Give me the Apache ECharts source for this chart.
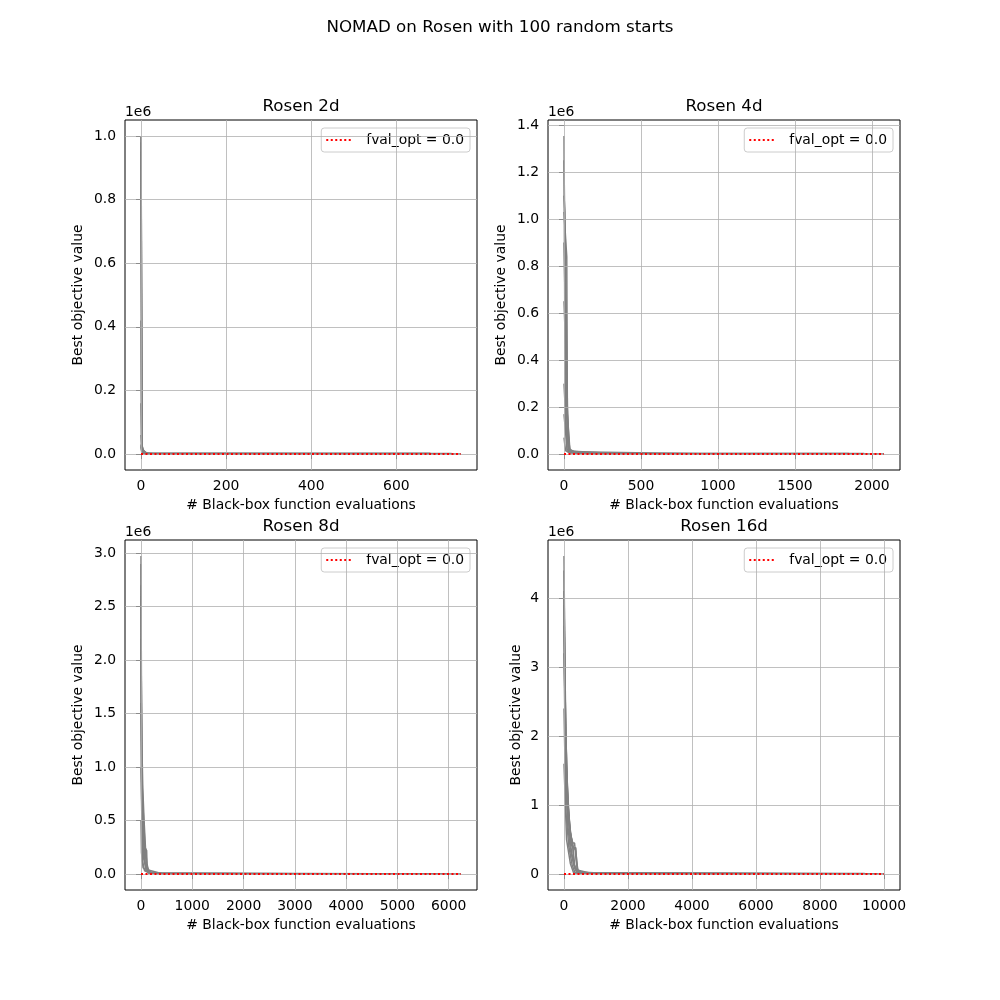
<!DOCTYPE html>
<html>
<head>
<meta charset="utf-8">
<script src="https://cdn.jsdelivr.net/npm/echarts@6/dist/echarts.min.js"></script>
<style>html,body{margin:0;padding:0;background:#fff}#c{width:1000px;height:1000px}</style>
</head>
<body>
<div id="c"></div>
<script>
// ---------------- data ----------------
const suptitle = 'NOMAD on Rosen with 100 random starts';
const panelTitles = ['Rosen 2d', 'Rosen 4d', 'Rosen 8d', 'Rosen 16d'];
const xAxisName = '# Black-box function evaluations';
const yAxisName = 'Best objective value';
const legendName = 'fval_opt = 0.0';
const fvalOpt = 0.0;

const xTicks2d = [0, 200, 400, 600];
const xTicks4d = [0, 500, 1000, 1500, 2000];
const xTicks8d = [0, 1000, 2000, 3000, 4000, 5000, 6000];
const xTicks16d = [0, 2000, 4000, 6000, 8000, 10000];

const yTicks2d = [0, 2e5, 4e5, 6e5, 8e5, 1e6];
const yLabels2d = ['0.0', '0.2', '0.4', '0.6', '0.8', '1.0'];
const yTicks4d = [0, 2e5, 4e5, 6e5, 8e5, 1e6, 1.2e6, 1.4e6];
const yLabels4d = ['0.0', '0.2', '0.4', '0.6', '0.8', '1.0', '1.2', '1.4'];
const yTicks8d = [0, 5e5, 1e6, 1.5e6, 2e6, 2.5e6, 3e6];
const yLabels8d = ['0.0', '0.5', '1.0', '1.5', '2.0', '2.5', '3.0'];
const yTicks16d = [0, 1e6, 2e6, 3e6, 4e6];
const yLabels16d = ['0', '1', '2', '3', '4'];

// representative best-so-far traces: [evaluation, best objective value]
const runs2d = [
  [[0, 1.0e6], [2, 2.6e4], [6, 2.2e4], [8, 4000], [30, 900], [752, 0]],
  [[0, 1.0e6], [3, 2.5e4], [5, 1.2e4], [15, 2500], [730, 1500]],
  [[0, 9.8e5], [1, 3.0e5], [2, 1.0e4], [10, 2000], [20, 1500], [700, 1000]],
  [[0, 9.5e5], [3, 1.5e4], [12, 3000], [640, 500]],
  [[0, 4.2e5], [1, 1.5e4], [4, 3000], [20, 400], [610, 0]],
  [[0, 1.6e5], [2, 8000], [8, 1200], [40, 100], [520, 0]],
  [[0, 6.0e4], [2, 2.0e4], [5, 2000], [30, 200], [450, 0]],
  [[0, 2.4e4], [3, 6000], [10, 500], [380, 0]],
  [[0, 3.0e4], [1, 1.0e4], [6, 3000], [680, 2500]]
];
const runs4d = [
  [[0, 1.354e6], [2, 1.04e6], [5, 6.0e5], [9, 1.7e5], [20, 1.2e4], [80, 3000], [2078, 0]],
  [[0, 1.25e6], [4, 1.03e6], [12, 1.03e6], [14, 2.0e5], [30, 1.5e4], [150, 3000], [1850, 2000]],
  [[0, 1.1e6], [6, 1.03e6], [10, 8.4e5], [20, 8.4e5], [24, 1.0e5], [40, 8000], [200, 1500], [1600, 1000]],
  [[0, 1.03e6], [18, 8.4e5], [22, 1.7e5], [34, 1.7e5], [38, 2.0e4], [60, 1.2e4], [300, 4000], [1950, 3000]],
  [[0, 9.0e5], [14, 4.0e5], [22, 1.7e5], [32, 1.7e5], [36, 1.5e4], [120, 1000], [1400, 0]],
  [[0, 6.5e5], [8, 5.0e5], [16, 3.0e5], [26, 1.2e5], [30, 2.0e4], [60, 1.2e4], [250, 500], [1200, 0]],
  [[0, 3.0e5], [16, 9.0e4], [28, 3.0e4], [50, 1.0e4], [1000, 0]],
  [[0, 1.7e5], [20, 2.0e4], [45, 8000], [180, 1500], [850, 0]],
  [[0, 7.0e4], [10, 1.5e4], [35, 5000], [700, 0]]
];
const runs8d = [
  [[0, 2.975e6], [3, 2.4e6], [8, 1.8e6], [18, 1.2e6], [35, 8.0e5], [60, 5.0e5], [90, 2.2e5], [115, 1.0e5], [150, 2.5e4], [210, 1.5e4], [400, 5000], [6240, 0]],
  [[0, 2.9e6], [6, 1.5e6], [20, 9.0e5], [40, 6.2e5], [72, 6.2e5], [78, 2.5e5], [110, 2.2e5], [120, 4.0e4], [400, 6000], [5700, 3000]],
  [[0, 2.6e6], [12, 9.0e5], [30, 5.0e5], [55, 3.0e5], [100, 1.2e5], [130, 3.0e4], [190, 1.2e4], [400, 4000], [5200, 2000]],
  [[0, 2.2e6], [15, 6.0e5], [40, 2.5e5], [80, 1.0e5], [170, 2.0e4], [350, 3000], [4600, 0]],
  [[0, 1.6e6], [20, 3.0e5], [50, 1.5e5], [100, 4.0e4], [200, 1.0e4], [4000, 0]],
  [[0, 1.0e6], [30, 1.2e5], [70, 3.0e4], [200, 5000], [3500, 0]],
  [[0, 2.7e6], [5, 1.9e6], [15, 1.1e6], [30, 6.0e5], [50, 3.0e5], [75, 1.2e5], [100, 5.0e4], [200, 1.0e4], [6000, 1000]],
  [[0, 5.0e5], [10, 2.0e5], [40, 6.0e4], [150, 8000], [3000, 0]]
];
const runs16d = [
  [[0, 4.61e6], [10, 4.0e6], [30, 3.0e6], [60, 2.0e6], [110, 1.2e6], [180, 7.0e5], [250, 4.5e5], [330, 4.5e5], [380, 2.0e5], [440, 3.0e4], [1100, 1.5e4], [10000, 0]],
  [[0, 4.4e6], [15, 3.5e6], [40, 2.5e6], [80, 1.6e6], [140, 9.0e5], [210, 5.5e5], [260, 4.8e5], [300, 4.8e5], [340, 1.0e5], [420, 2.0e4], [1000, 1.0e4], [9800, 5000]],
  [[0, 4.1e6], [20, 3.2e6], [50, 2.2e6], [90, 1.4e6], [150, 8.0e5], [220, 5.0e5], [280, 4.0e5], [360, 3.5e5], [430, 6.0e4], [600, 1.5e4], [9400, 8000]],
  [[0, 3.9e6], [25, 2.6e6], [70, 1.6e6], [125, 1.0e6], [200, 6.0e5], [270, 4.5e5], [300, 1.5e5], [420, 4.0e4], [700, 1.0e4], [8600, 3000]],
  [[0, 3.6e6], [40, 2.0e6], [100, 1.1e6], [170, 6.0e5], [240, 3.0e5], [350, 8.0e4], [500, 1.2e4], [7800, 0]],
  [[0, 3.2e6], [50, 1.4e6], [120, 7.0e5], [200, 3.5e5], [320, 1.0e5], [400, 2.0e4], [6800, 5000]],
  [[0, 2.4e6], [60, 9.0e5], [150, 4.0e5], [260, 1.2e5], [350, 1.5e4], [5800, 0]],
  [[0, 1.6e6], [80, 5.0e5], [200, 1.5e5], [300, 2.0e4], [4800, 0]],
  [[0, 4.0e6], [30, 2.4e6], [70, 1.5e6], [110, 1.1e6], [160, 7.0e5], [230, 4.2e5], [290, 3.8e5], [370, 3.8e5], [410, 6.0e4], [800, 1.5e4], [9000, 4000]]
];

const panelRuns = [runs2d, runs4d, runs8d, runs16d];
const panelXTicks = [xTicks2d, xTicks4d, xTicks8d, xTicks16d];
const panelYTicks = [yTicks2d, yTicks4d, yTicks8d, yTicks16d];
const panelYLabels = [yLabels2d, yLabels4d, yLabels8d, yLabels16d];

// ---------------- layout ----------------
const FONT = 'DejaVu Sans';
const FS = 13.9;
const AX_W = 352, AX_H = 350;
const lefts = [125, 548, 125, 548];
const tops = [120, 120, 540, 540];
const yNameGaps = [40, 40, 40, 25];
const DOT = [2, 2.5];

const grids = [], xAxes = [], yAxes = [], series = [], legends = [], graphics = [];

graphics.push({type: 'text', left: 'center', top: 19, style: {text: suptitle, font: '16.7px "' + FONT + '"', fill: '#000'}});

panelRuns.forEach((runs, i) => {
  let xmin = Infinity, xmax = -Infinity, ymin = Infinity, ymax = -Infinity;
  runs.forEach(r => r.forEach(p => {
    xmin = Math.min(xmin, p[0]); xmax = Math.max(xmax, p[0]);
    ymin = Math.min(ymin, p[1]); ymax = Math.max(ymax, p[1]);
  }));
  const xp = 0.05 * (xmax - xmin), yp = 0.05 * (ymax - ymin);

  grids.push({left: lefts[i], top: tops[i], width: AX_W, height: AX_H, show: true,
    borderColor: '#000', borderWidth: 1, backgroundColor: 'transparent', containLabel: false});

  const xt = panelXTicks[i], yt = panelYTicks[i], yl = panelYLabels[i];
  xAxes.push({type: 'value', gridIndex: i, min: xmin - xp, max: xmax + xp,
    name: xAxisName, nameLocation: 'middle', nameGap: 28,
    nameTextStyle: {fontFamily: FONT, fontSize: FS, color: '#000'},
    axisLine: {show: false}, splitLine: {show: false},
    axisTick: {show: true, customValues: xt, length: 5, inside: false, lineStyle: {color: '#000', width: 1}},
    axisLabel: {show: true, customValues: xt, margin: 9, fontFamily: FONT, fontSize: FS, color: '#000',
      formatter: v => String(v)}
  });
  yAxes.push({type: 'value', gridIndex: i, min: ymin - yp, max: ymax + yp,
    name: yAxisName, nameLocation: 'middle', nameGap: yNameGaps[i],
    nameTextStyle: {fontFamily: FONT, fontSize: FS, color: '#000'},
    axisLine: {show: false}, splitLine: {show: false},
    axisTick: {show: true, customValues: yt, length: 5, inside: false, lineStyle: {color: '#000', width: 1}},
    axisLabel: {show: true, customValues: yt, margin: 9, fontFamily: FONT, fontSize: FS, color: '#000',
      formatter: v => { const k = yt.findIndex(t => Math.abs(t - v) < 1e-6 * (Math.abs(t) + 1)); return k >= 0 ? yl[k] : ''; }}
  });

  // grid lines
  series.push({type: 'line', xAxisIndex: i, yAxisIndex: i, data: [], z: 1, silent: true, animation: false,
    markLine: {silent: true, animation: false, symbol: ['none', 'none'], label: {show: false},
      emphasis: {disabled: true},
      lineStyle: {color: '#b0b0b0', width: 0.8, type: 'solid'},
      data: xt.map(v => ({xAxis: v})).concat(yt.map(v => ({yAxis: v})))}
  });
  runs.forEach((r, k) => {
    series.push({type: 'line', name: 'run' + i + '_' + k, xAxisIndex: i, yAxisIndex: i, data: r,
      symbol: 'none', showSymbol: false, z: 2, silent: true, animation: false,
      lineStyle: {color: '#808080', width: 1.5}, itemStyle: {color: '#808080'}});
  });
  series.push({type: 'line', name: legendName, xAxisIndex: i, yAxisIndex: i,
    data: [[0, fvalOpt], [xmax, fvalOpt]], symbol: 'none', showSymbol: false, z: 5, silent: true, animation: false,
    lineStyle: {color: '#ff0000', width: 2, type: DOT, cap: 'butt'}, itemStyle: {color: '#ff0000'}});

  legends.push({data: [legendName], right: 1000 - (lefts[i] + AX_W) + 7, top: tops[i] + 8,
    orient: 'vertical', itemWidth: 25, itemHeight: 14, padding: [5, 6, 5, 4],
    backgroundColor: 'rgba(255,255,255,0.8)', borderColor: '#cccccc', borderWidth: 1, borderRadius: 3,
    selectedMode: false,
    itemStyle: {opacity: 0},
    lineStyle: {color: '#ff0000', width: 2, type: DOT},
    textStyle: {fontFamily: FONT, fontSize: FS, color: '#000', padding: [0, 0, 0, 10]}});

  graphics.push({type: 'text', x: lefts[i] + AX_W / 2, y: tops[i] - 13,
    style: {text: panelTitles[i], font: '16.7px "' + FONT + '"', fill: '#000', textAlign: 'center', textVerticalAlign: 'middle'}});
  graphics.push({type: 'text', x: lefts[i], y: tops[i] - 8,
    style: {text: '1e6', font: FS + 'px "' + FONT + '"', fill: '#000', textAlign: 'left', textVerticalAlign: 'middle'}});
});

const chart = echarts.init(document.getElementById('c'), null, {renderer: 'canvas'});
chart.setOption({
  backgroundColor: '#fff',
  animation: false,
  textStyle: {fontFamily: FONT},
  grid: grids, xAxis: xAxes, yAxis: yAxes, series: series, legend: legends,
  graphic: graphics
});
</script>
</body>
</html>
